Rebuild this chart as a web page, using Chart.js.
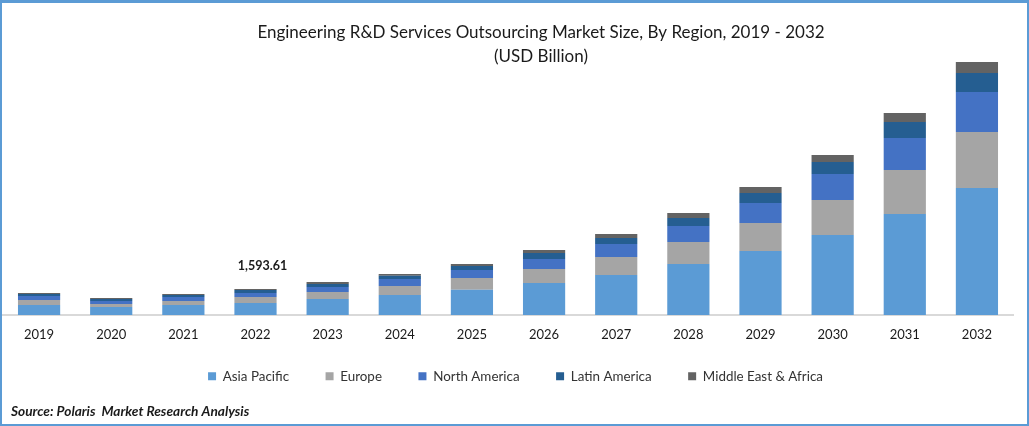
<!DOCTYPE html>
<html>
<head>
<meta charset="utf-8">
<style>
html,body{margin:0;padding:0;background:#fff;}
#frame{position:absolute;left:0;top:0;width:1029px;height:426px;box-sizing:border-box;border:solid #5b9bd5;border-width:3px 2px 2px 2px;}
#chart{position:absolute;left:0;top:0;}
</style>
<script src="https://cdn.jsdelivr.net/npm/chart.js@4"></script>
</head>
<body>
<div id="frame"></div>
<canvas id="chart" width="1029" height="426"></canvas>
<script>
const years=['2019','2020','2021','2022','2023','2024','2025','2026','2027','2028','2029','2030','2031','2032'];
const asiaPacific=[613,490,613,736,981,1226,1551,1962,2452,3126,3923,4904,6191,7785];
const europe=[307,184,245,368,429,552,717,858,1103,1349,1716,2146,2697,3433];
const northAmerica=[245,184,245,245,307,429,490,613,797,981,1226,1594,1962,2452];
const latinAmerica=[123,123,123,184,184,202,245,368,368,490,613,736,981,1165];
const middleEast=[61,61,61,61,123,104,123,184,245,307,368,429,552,674];
const labelYear='2022', labelText='1,593.61';

const font='Lato';

// value label above the 2022 stack
const stackLabel={
  id:'stackLabel',
  afterDatasetsDraw(c){
    const i=years.indexOf(labelYear);
    const top=c.getDatasetMeta(4).data[i];
    const x=c.ctx;
    x.save();
    x.font='bold 12.5px '+font;
    x.fillStyle='#1a1a1a';
    x.textAlign='center';
    x.textBaseline='bottom';
    x.fillText(labelText,top.x+7,top.y-17);
    x.restore();
  }
};

// nudge the title, legend and source line to where the reference has them
const shift=(box,dx,dy)=>{box.left+=dx;box.right+=dx;box.top+=dy;box.bottom+=dy;};
const nudge={
  id:'nudge',
  afterLayout(c){
    shift(c.titleBlock,33,0);
    shift(c.legend,7.5,-21.5);
    if(c.legend.adjustHitBoxes) c.legend.adjustHitBoxes();
    const source=c.boxes.find(b=>b!==c.titleBlock&&b!==c.legend&&b.position==='bottom'&&b.options.text);
    if(source) shift(source,8,0);
  }
};

const bar=(label,data,color)=>({label:label,data:data,backgroundColor:color,borderWidth:0,categoryPercentage:0.585,barPercentage:1});

new Chart(document.getElementById('chart').getContext('2d'),{
  type:'bar',
  data:{
    labels:years,
    datasets:[
      bar('Asia Pacific',asiaPacific,'#5b9bd5'),
      bar('Europe',europe,'#a5a5a5'),
      bar('North America',northAmerica,'#4472c4'),
      bar('Latin America',latinAmerica,'#255e91'),
      bar('Middle East & Africa',middleEast,'#636363')
    ]
  },
  options:{
    responsive:false,
    animation:false,
    layout:{padding:{left:3,right:16,top:0,bottom:6}},
    scales:{
      x:{
        stacked:true,
        grid:{display:false,drawTicks:false},
        border:{color:'#d9d9d9',width:2},
        ticks:{color:'#1a1a1a',font:{family:font,size:13},padding:12,maxRotation:0}
      },
      y:{stacked:true,display:false,min:0,max:16500}
    },
    plugins:{
      title:{
        display:true,
        text:['Engineering R&D Services Outsourcing Market Size, By Region, 2019 - 2032','(USD Billion)'],
        color:'#1a1a1a',
        font:{family:font,size:17,weight:'normal',lineHeight:1.41},
        padding:{top:21,bottom:-23}
      },
      subtitle:{
        display:true,
        position:'bottom',
        align:'start',
        text:'Source: Polaris  Market Research Analysis',
        color:'#1a1a1a',
        font:{family:font,size:13.7,weight:'bold',style:'italic'},
        padding:{top:-11,bottom:0}
      },
      legend:{
        position:'bottom',
        labels:{color:'#333',font:{family:font,size:13.4},boxWidth:8,boxHeight:8,padding:36.5}
      },
      tooltip:{enabled:false}
    }
  },
  plugins:[stackLabel,nudge]
});
</script>
</body>
</html>
